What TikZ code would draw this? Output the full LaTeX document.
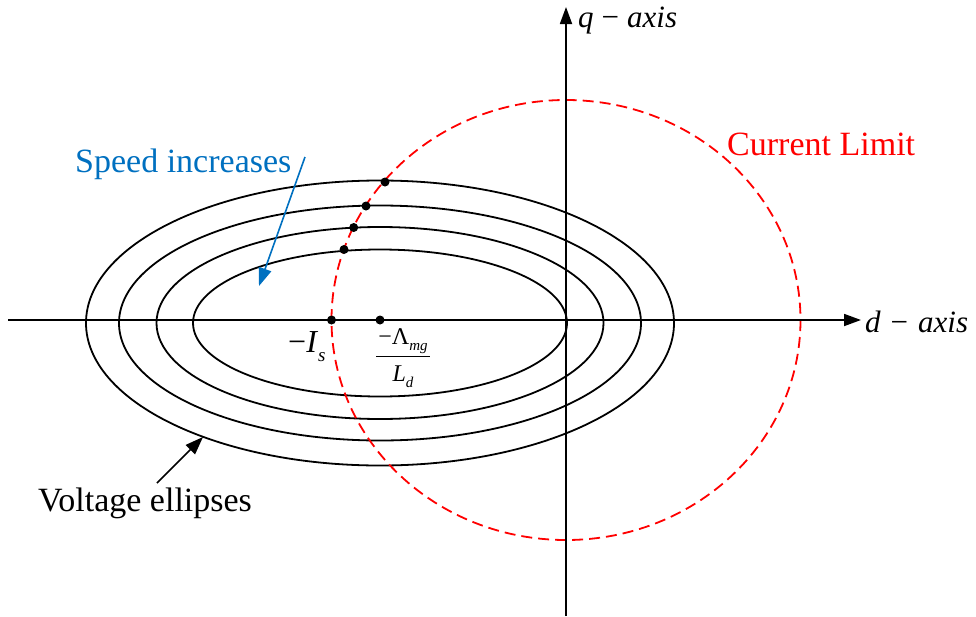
\documentclass[tikz,border=0pt]{standalone}
\usepackage{fontspec}
\setmainfont{Liberation Serif}
\usetikzlibrary{arrows.meta}
\definecolor{myblue}{RGB}{0,112,192}
\begin{document}
\begin{tikzpicture}[x=1pt,y=-1pt,
  axisline/.style={line width=1.8pt,-{Triangle[length=17pt,width=12pt]}},
  ell/.style={line width=1.8pt},
  limit/.style={red,line width=1.8pt,dash pattern=on 11pt off 6pt},
  pt/.style={circle,fill=black,inner sep=0pt,minimum size=9pt},
  lbl/.style={inner sep=0pt,anchor=base west,font=\fontsize{34}{40}\selectfont},
  mlbl/.style={inner sep=0pt,anchor=base west,font=\fontsize{31}{36}\selectfont\itshape}]
\useasboundingbox (0,0) rectangle (976,616);
% ellipses
\coordinate (ec) at (380,323);
\draw[ell] (ec) ellipse [x radius=187, y radius=73.5];
\draw[ell] (ec) ellipse [x radius=223.5, y radius=96];
\draw[ell] (ec) ellipse [x radius=261, y radius=117.5];
\draw[ell] (ec) ellipse [x radius=294, y radius=142.5];
% current limit
\coordinate (cc) at (566,320);
\draw[limit] (cc) ellipse [x radius=234.5, y radius=220];
% axes
\coordinate (dL) at (8,320);
\coordinate (dR) at (861,320);
\coordinate (qB) at (566,616);
\coordinate (qT) at (566,7);
\draw[axisline] (dL) -- (dR);
\draw[axisline] (qB) -- (qT);
\node[mlbl] (dlab) at (865,332) {d\hspace{10pt}\upshape−\hspace{10pt}\itshape axis};
\node[mlbl] (qlab) at (578,27) {q\hspace{8pt}\upshape−\hspace{8pt}\itshape axis};
% points
\node[pt] (p1) at (385,182) {};
\node[pt] (p2) at (366,206) {};
\node[pt] (p3) at (353.7,227.5) {};
\node[pt] (p4) at (344,249.5) {};
\node[pt] (is) at (331.5,320) {};
\node[pt] (lam) at (380,320) {};
% labels
\node[inner sep=0pt,anchor=base west,font=\fontsize{32}{36}\selectfont] (islab) at (288,352)
  {−\textit{I}\raisebox{-9pt}{\fontsize{19}{19}\selectfont\textit{s}}};
\node[inner sep=0pt,font=\fontsize{24}{26}\selectfont] (fraclab) at (403,358)
  {\setlength{\arrayrulewidth}{1.2pt}\begin{tabular}{@{\hspace{2pt}}c@{\hspace{2pt}}}
   −Λ\raisebox{-6pt}{\fontsize{15}{15}\selectfont\textit{mg}}\\[3pt]\hline
   \rule{0pt}{25pt}\textit{L}\raisebox{-6pt}{\fontsize{15}{15}\selectfont\textit{d}}
   \end{tabular}};
\node[lbl,red] (cl) at (727,155) {Current Limit};
\node[lbl,myblue] (sp) at (75,172) {Speed increases};
\node[lbl] (ve) at (38,511) {Voltage ellipses};
% arrows
\coordinate (spA) at (305,157);
\coordinate (spB) at (259,286);
\draw[myblue,line width=1.6pt,-{Triangle[length=18pt,width=13pt]}] (spA) -- (spB);
\coordinate (veA) at (157,483);
\coordinate (veB) at (203,437);
\draw[line width=1.6pt,-{Triangle[length=18pt,width=13pt]}] (veA) -- (veB);
\end{tikzpicture}
\end{document}
